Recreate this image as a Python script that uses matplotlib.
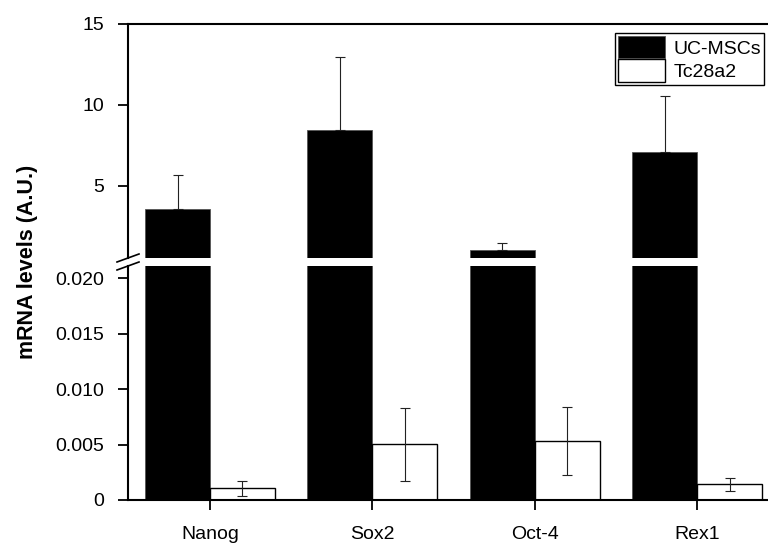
import matplotlib
matplotlib.use("Agg")
import matplotlib.pyplot as plt
import numpy as np
from matplotlib.lines import Line2D

plt.rcParams['font.family'] = ['Liberation Sans', 'DejaVu Sans']

categories = ["Nanog", "Sox2", "Oct-4", "Rex1"]
uc_mscs = [3.57, 8.47, 1.03, 7.10]
uc_mscs_err = [2.10, 4.48, 0.44, 3.46]
tc28a2 = [0.00104, 0.00501, 0.00534, 0.00140]
tc28a2_err = [0.00068, 0.00330, 0.00307, 0.00059]
series_names = ["UC-MSCs", "Tc28a2"]

upper_ticks = [5, 10, 15]
lower_ticks = [0, 0.005, 0.010, 0.015, 0.020]
lower_ticklabels = ["0", "0.005", "0.010", "0.015", "0.020"]

W, H = 768, 549
fig = plt.figure(figsize=(W / 100, H / 100), dpi=100)

left = 128 / W
width = 1 - left
ax_up = fig.add_axes([left, 1 - 258 / H, width, (258 - 24) / H])
ax_lo = fig.add_axes([left, 1 - 500 / H, width, (500 - 266) / H])

x = np.arange(len(categories))
bw = 0.4
fs = 14

for ax in (ax_up, ax_lo):
    ax.bar(x - bw / 2, uc_mscs, bw, color="black", edgecolor="#555555", linewidth=0.6,
           label=series_names[0], zorder=2)
    ax.bar(x + bw / 2, tc28a2, bw, color="white", edgecolor="black", linewidth=1.0,
           label=series_names[1], zorder=2)
    ax.errorbar(x - bw / 2, uc_mscs, yerr=[np.zeros(len(uc_mscs)), uc_mscs_err], fmt="none",
                ecolor="#222222", elinewidth=0.8, capsize=3.6, capthick=0.8, zorder=3)
    ax.errorbar(x + bw / 2, tc28a2, yerr=tc28a2_err, fmt="none",
                ecolor="#222222", elinewidth=0.8, capsize=3.4, capthick=0.8, zorder=3)
    ax.set_xlim(-0.505, 3.437)
    ax.spines['right'].set_visible(False)
    for s in ax.spines.values():
        s.set_linewidth(1.5)
    ax.tick_params(axis='y', direction='out', length=7, width=1.3, labelsize=fs, pad=10)

ax_up.set_ylim(0.55, 15)
ax_up.set_yticks(upper_ticks)
ax_up.set_yticklabels([str(t) for t in upper_ticks])
ax_up.spines['bottom'].set_visible(False)
ax_up.tick_params(axis='x', bottom=False, labelbottom=False)

ax_lo.set_ylim(0, 0.0211)
ax_lo.set_yticks(lower_ticks)
ax_lo.set_yticklabels(lower_ticklabels)
ax_lo.spines['top'].set_visible(False)
ax_lo.set_xticks(x)
ax_lo.set_xticklabels(categories)
ax_lo.tick_params(axis='x', direction='out', length=7, width=1.3, labelsize=fs, pad=12)

# break marks on the left axis
for y0, y1 in [(262, 254), (270, 262)]:
    fig.add_artist(Line2D([117 / W, 139 / W], [1 - y0 / H, 1 - y1 / H],
                          color="black", linewidth=1.2))

fig.text(28 / W, 1 - 262 / H, "mRNA levels (A.U.)", rotation=90, ha="center", va="center",
         fontsize=15.5, fontweight="bold")

leg = ax_up.legend(loc="upper left", bbox_to_anchor=(615 / W, 1 - 33 / H),
                   bbox_transform=fig.transFigure, fontsize=fs, frameon=True, fancybox=False,
                   framealpha=1, edgecolor="black", borderpad=0.15, labelspacing=0.05,
                   handlelength=2.4, handleheight=1.4, handletextpad=0.45, borderaxespad=0)
leg.get_frame().set_linewidth(1.0)

fig.savefig("out.png", dpi=100)
